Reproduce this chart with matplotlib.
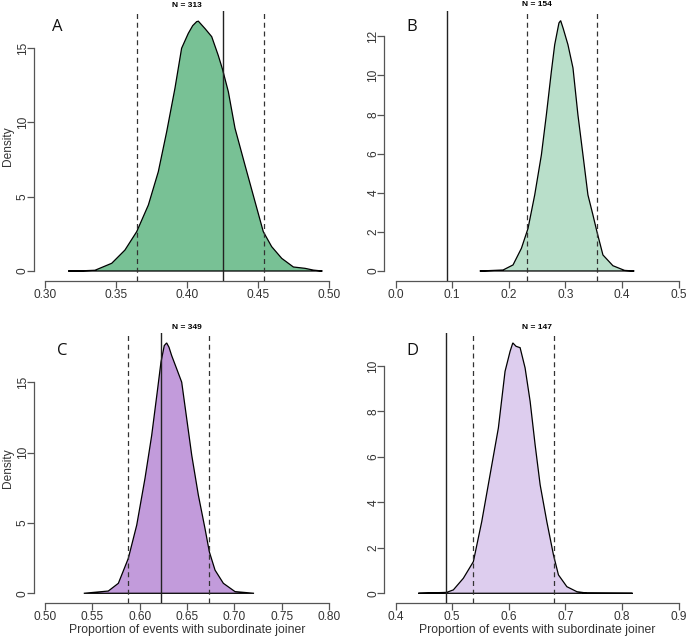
import numpy as np
import matplotlib.pyplot as plt

# density curves (x = proportion, y = density)
a_x = [0.3164, 0.325, 0.3352, 0.347, 0.3563, 0.3646, 0.3728, 0.3798, 0.3857, 0.3915, 0.3962,
       0.4009, 0.4040, 0.4068, 0.408, 0.4127, 0.4174, 0.4220, 0.4249, 0.4291, 0.4338, 0.4408,
       0.4479, 0.4537, 0.4596, 0.4667, 0.4749, 0.4831, 0.4890, 0.4953]
a_y = [0.0, 0.01, 0.05, 0.52, 1.41, 2.65, 4.44, 6.68, 9.37, 12.28, 14.98,
       15.98, 16.5, 16.77, 16.8, 16.3, 15.76, 14.5, 13.6, 12.06, 9.6, 7.13,
       4.66, 2.65, 1.64, 0.85, 0.27, 0.18, 0.06, 0.0]

b_x = [0.1487, 0.165, 0.1898, 0.2074, 0.2222, 0.2339, 0.2457, 0.2575, 0.2663, 0.2751, 0.281,
       0.2885, 0.2915, 0.2960, 0.3044, 0.3133, 0.322, 0.3309, 0.3397, 0.3485, 0.3556, 0.3662,
       0.3838, 0.4044, 0.4215]
b_y = [0.0, 0.02, 0.05, 0.31, 1.16, 2.18, 3.89, 5.94, 7.99, 10.2, 11.57,
       12.68, 12.8, 12.4, 11.57, 10.38, 7.99, 5.94, 3.89, 2.87, 2.01, 0.82,
       0.27, 0.03, 0.0]

c_x = [0.5410, 0.5669, 0.5775, 0.588, 0.5969, 0.6056, 0.6127, 0.619, 0.6225, 0.626, 0.6285,
       0.6310, 0.6338, 0.6391, 0.6444, 0.6497, 0.655, 0.662, 0.669, 0.6736, 0.6796, 0.6884,
       0.7007, 0.7208]
c_y = [0.0, 0.16, 0.71, 2.48, 4.85, 8.16, 11.23, 14.55, 16.44, 17.62, 17.81,
       17.5, 16.91, 15.97, 15.02, 12.42, 9.82, 6.98, 4.61, 2.95, 1.65, 0.71,
       0.12, 0.0]

d_x = [0.440, 0.4902, 0.502, 0.5196, 0.5373, 0.5521, 0.5668, 0.5815, 0.5933, 0.6022, 0.607,
       0.6128, 0.6199, 0.6287, 0.6376, 0.6464, 0.6553, 0.6671, 0.6788, 0.6876, 0.7025, 0.7202,
       0.7379, 0.8186]
d_y = [0.0, 0.04, 0.15, 0.66, 1.39, 3.15, 5.21, 7.27, 9.76, 10.64, 11.01,
       10.86, 10.8, 9.91, 8.44, 6.53, 4.77, 3.15, 1.69, 0.81, 0.29, 0.07,
       0.01, 0.0]

observed = [0.425, 0.090, 0.6225, 0.4895]
ci_low = [0.3646, 0.2328, 0.588, 0.5373]
ci_high = [0.454, 0.3556, 0.6736, 0.6806]
n_labels = ["N = 313", "N = 154", "N = 349", "N = 147"]
letters = ["A", "B", "C", "D"]
colors = ["#78C195", "#B9DFCA", "#C29BDB", "#DDCDEE"]
xticks = [np.arange(0.30, 0.501, 0.05), np.arange(0.0, 0.501, 0.1),
          np.arange(0.50, 0.801, 0.05), np.arange(0.4, 0.901, 0.1)]
xfmt = ["%.2f", "%.1f", "%.2f", "%.1f"]
yticks = [[0, 5, 10, 15], [0, 2, 4, 6, 8, 10, 12], [0, 5, 10, 15], [0, 2, 4, 6, 8, 10]]

W, H = 690, 637
fig = plt.figure(figsize=(W / 100, H / 100), dpi=100)

# panel rectangles in pixels: left, top, right, bottom
rects = [(33.6, 11.2, 340.4, 281.0), (384.3, 10.6, 690.0, 281.0),
         (33.6, 332.9, 340.4, 603.3), (384.3, 332.9, 690.0, 603.3)]
letter_pos = [(57, 27), (412, 27), (62, 351), (412, 351)]
curves = [(a_x, a_y), (b_x, b_y), (c_x, c_y), (d_x, d_y)]
axcol = "#555555"
txtcol = "#333333"
fs = 8.6

for i in range(4):
    l, t, r, b = rects[i]
    ax = fig.add_axes([l / W, 1 - b / H, (r - l) / W, (b - t) / H])
    x, y = curves[i]
    ax.fill(x, y, facecolor=colors[i], edgecolor="black", linewidth=0.9, zorder=2)
    ax.axvline(observed[i], color="#222222", linewidth=1.0, zorder=3)
    ax.axvline(ci_low[i], color="#333333", linewidth=0.9, linestyle=(0, (4, 3)), zorder=3)
    ax.axvline(ci_high[i], color="#333333", linewidth=0.9, linestyle=(0, (4, 3)), zorder=3)

    xt = xticks[i]
    rng = xt[-1] - xt[0]
    ax.set_xlim(xt[0] - 0.04 * rng, xt[-1] + 0.04 * rng)
    ymax = max(y)
    ax.set_ylim(-0.04 * ymax, 1.04 * ymax)

    for s in ["top", "right"]:
        ax.spines[s].set_visible(False)
    ax.spines["left"].set_bounds(0, yticks[i][-1])
    ax.spines["bottom"].set_bounds(xt[0], xt[-1])
    for s in ["left", "bottom"]:
        ax.spines[s].set_color(axcol)
        ax.spines[s].set_linewidth(0.9)
    ax.set_xticks(xt)
    ax.set_xticklabels([xfmt[i] % v for v in xt], family="Liberation Sans", color=txtcol, fontsize=fs)
    ax.set_yticks(yticks[i])
    ax.set_yticklabels([str(v) for v in yticks[i]], family="Liberation Sans", color=txtcol,
                       fontsize=fs, rotation=90, va="center")
    ax.tick_params(axis="both", length=5, width=0.9, color=axcol)
    ax.tick_params(axis="x", pad=0.5)
    ax.tick_params(axis="y", pad=-1.5)
    ax.patch.set_visible(False)

    ax.set_title(n_labels[i], fontsize=6, fontweight="bold", family="Liberation Sans", pad=3)
    if i in (0, 2):
        fig.text(8 / W, 1 - ((t + b) / 2) / H, "Density", rotation=90, ha="center", va="center",
                 family="Liberation Sans", fontsize=fs, color=txtcol)
    if i in (2, 3):
        ax.set_xlabel("Proportion of events with subordinate joiner", family="Liberation Sans",
                      fontsize=fs + 0.2, color=txtcol, labelpad=1)
    lx, ly = letter_pos[i]
    fig.text(lx / W, 1 - ly / H, letters[i], fontsize=12, family="Open Sans",
             ha="center", va="center", color="#111111")

fig.savefig("out.png", dpi=100)
